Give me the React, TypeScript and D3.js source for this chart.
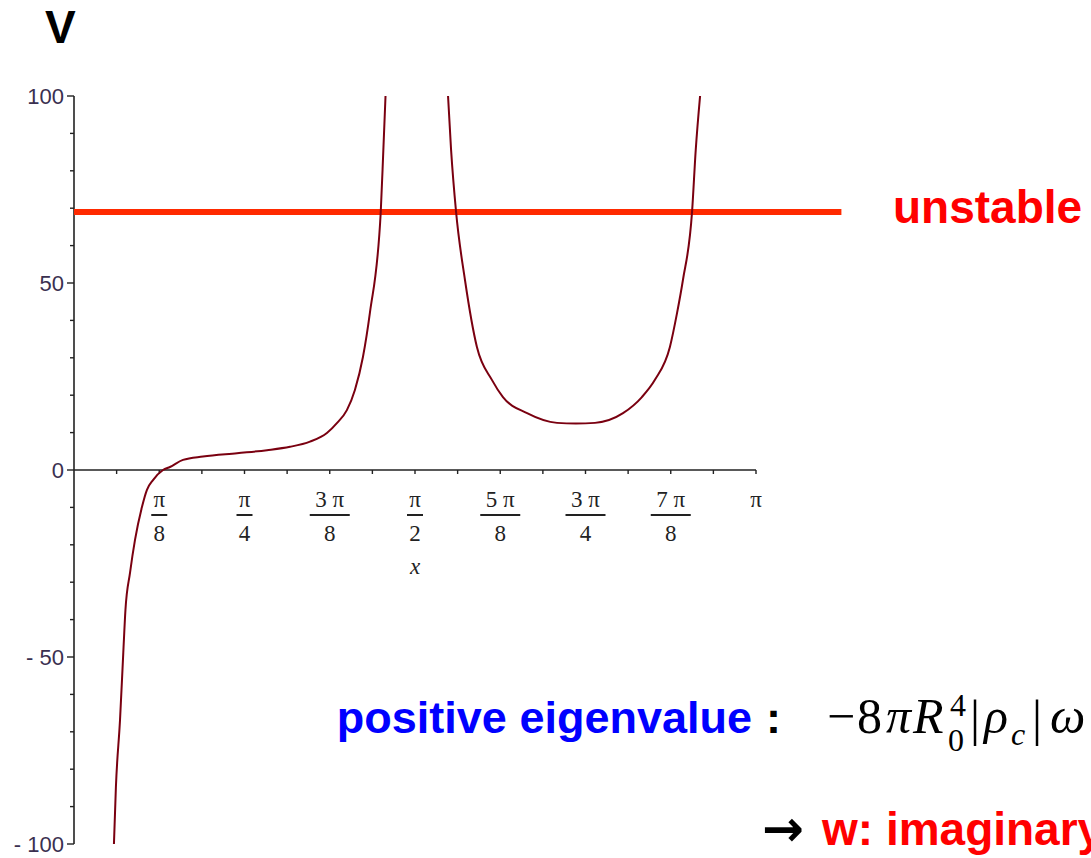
import React from 'react';
import * as d3 from 'd3';

// left branch (x in radians, V)
const BRANCH1_X = [0.184, 0.193, 0.212, 0.227, 0.237, 0.258, 0.281, 0.313, 0.336, 0.364, 0.410, 0.442, 0.502, 0.594, 0.751, 0.889, 0.995, 1.087, 1.165, 1.212, 1.257, 1.294, 1.331, 1.363, 1.413, 1.425, 1.435];
const BRANCH1_Y = [-100, -84.8, -66.8, -48.9, -37.4, -27.5, -18.7, -9.9, -5.3, -2.7, 0, 0.8, 2.7, 3.6, 4.5, 5.3, 6.2, 7.6, 9.9, 12.6, 16.0, 21.4, 30.2, 42.0, 69.0, 85.6, 100];

// right branch
const BRANCH2_X = [1.723, 1.737, 1.760, 1.801, 1.856, 1.925, 1.976, 2.087, 2.225, 2.312, 2.400, 2.529, 2.616, 2.676, 2.745, 2.778, 2.805, 2.847, 2.864, 2.884];
const BRANCH2_Y = [100, 85.6, 69.0, 50.8, 32.9, 24.1, 19.5, 15.2, 12.6, 12.4, 12.6, 15.2, 19.5, 24.1, 32.9, 42.0, 50.8, 69.0, 85.6, 100];

const THRESHOLD_V = 69;
const THRESHOLD_X_END = 3.535;

const Y_MAJOR = [100, 50, 0, -50, -100];
const Y_LABELS = ['100', '50', '0', '- 50', '- 100'];

const X_TICK_EIGHTHS = [1, 2, 3, 4, 5, 6, 7];
const X_TICK_NUM = ['π', 'π', '3 π', 'π', '5 π', '3 π', '7 π'];
const X_TICK_DEN = ['8', '4', '8', '2', '8', '4', '8'];

const SANS = '"Liberation Sans", Arial, sans-serif';
const SERIF = '"Liberation Serif", "Times New Roman", serif';

export default function App()
{
    const width = 1091;
    const height = 858;

    const x = d3.scaleLinear().domain([0, Math.PI]).range([74, 756]);
    const y = d3.scaleLinear().domain([-100, 100]).range([844, 96]);

    const line = d3.line<[number, number]>()
        .x((d) => x(d[0]))
        .y((d) => y(d[1]))
        .curve(d3.curveMonotoneX);

    const b1 = BRANCH1_X.map((v, i) => [v, BRANCH1_Y[i]] as [number, number]);
    const b2 = BRANCH2_X.map((v, i) => [v, BRANCH2_Y[i]] as [number, number]);

    const yMinor = d3.range(-100, 101, 10).filter((v) => !Y_MAJOR.includes(v));
    const xTicks = d3.range(1, 17).map((k) => (k * Math.PI) / 16);

    const x0 = x(0);
    const y0 = y(0);

    return (
        <svg width={ width } height={ height } style={ { position: 'absolute', left: 0, top: 0, background: '#fff' } }>
            {/* y axis */}
            <line x1={ x0 } x2={ x0 } y1={ y(100) } y2={ y(-100) } stroke="#222" strokeWidth={ 1.6 } />
            { Y_MAJOR.map((v, i) => (
                <g key={ 'ym' + v }>
                    <line x1={ x0 - 7 } x2={ x0 } y1={ y(v) } y2={ y(v) } stroke="#222" strokeWidth={ 1.4 } />
                    <text x={ x0 - 10 } y={ y(v) + 8 } textAnchor="end" fontFamily={ SANS } fontSize={ 22 } fill="#3a3050">{ Y_LABELS[i] }</text>
                </g>
            )) }
            { yMinor.map((v) => (
                <line key={ 'yn' + v } x1={ x0 - 4 } x2={ x0 } y1={ y(v) } y2={ y(v) } stroke="#222" strokeWidth={ 1.4 } />
            )) }

            {/* x axis */}
            <line x1={ x0 } x2={ x(Math.PI) } y1={ y0 } y2={ y0 } stroke="#222" strokeWidth={ 1.6 } />
            { xTicks.map((v, i) => (
                <line key={ 'xt' + i } x1={ x(v) } x2={ x(v) } y1={ y0 } y2={ y0 + 4 } stroke="#222" strokeWidth={ 1.4 } />
            )) }
            { X_TICK_EIGHTHS.map((k, i) =>
            {
                const cx = x((k * Math.PI) / 8);
                const half = X_TICK_NUM[i].length > 1 ? 20 : 8;
                return (
                    <g key={ 'xl' + k } fontFamily={ SERIF } fontSize={ 23 } fill="#222">
                        <text x={ cx } y={ 507 } textAnchor="middle">{ X_TICK_NUM[i] }</text>
                        <line x1={ cx - half } x2={ cx + half } y1={ 515 } y2={ 515 } stroke="#222" strokeWidth={ 2 } />
                        <text x={ cx } y={ 541 } textAnchor="middle">{ X_TICK_DEN[i] }</text>
                    </g>
                );
            }) }
            <text x={ x(Math.PI) } y={ 507 } textAnchor="middle" fontFamily={ SERIF } fontSize={ 23 } fill="#222">π</text>
            <text x={ x(Math.PI / 2) } y={ 574 } textAnchor="middle" fontFamily={ SERIF } fontStyle="italic" fontSize={ 23 } fill="#222">x</text>

            {/* threshold */}
            <line x1={ x0 } x2={ x(THRESHOLD_X_END) } y1={ y(THRESHOLD_V) } y2={ y(THRESHOLD_V) } stroke="#ff2a00" strokeWidth={ 6 } />

            {/* curve */}
            <path d={ line(b1) ?? '' } fill="none" stroke="#7a0010" strokeWidth={ 2 } />
            <path d={ line(b2) ?? '' } fill="none" stroke="#7a0010" strokeWidth={ 2 } />

            {/* annotations */}
            <text x={ 45 } y={ 43 } fontFamily={ SANS } fontWeight="bold" fontSize={ 46 } fill="#000">V</text>
            <text x={ 893 } y={ 223 } fontFamily={ SANS } fontWeight="bold" fontSize={ 46 } fill="#ff0000">unstable</text>
            <text x={ 752 } y={ 733 } textAnchor="end" fontFamily={ SANS } fontWeight="bold" fontSize={ 45 } fill="#0000ff">positive eigenvalue</text>
            <text x={ 766 } y={ 733 } fontFamily={ SANS } fontWeight="bold" fontSize={ 45 } fill="#000">:</text>

            <g fontFamily={ SERIF } fill="#000">
                <text x={ 827 } y={ 733 } fontSize={ 50 }>−</text>
                <text x={ 857 } y={ 733 } fontSize={ 50 }>8</text>
                <text x={ 886 } y={ 733 } fontSize={ 50 } fontStyle="italic">π</text>
                <text x={ 913 } y={ 733 } fontSize={ 50 } fontStyle="italic">R</text>
                <text x={ 950 } y={ 716 } fontSize={ 32 }>4</text>
                <text x={ 948 } y={ 751 } fontSize={ 32 }>0</text>
                <text x={ 970 } y={ 735 } fontSize={ 50 }>|</text>
                <text x={ 984 } y={ 733 } fontSize={ 50 } fontStyle="italic">ρ</text>
                <text x={ 1011 } y={ 745 } fontSize={ 32 } fontStyle="italic">c</text>
                <text x={ 1032 } y={ 735 } fontSize={ 50 }>|</text>
                <text x={ 1050 } y={ 733 } fontSize={ 50 } fontStyle="italic">ω</text>
            </g>

            <text x={ 762 } y={ 846 } fontFamily='"DejaVu Sans", sans-serif' fontWeight="bold" fontSize={ 50 } fill="#000">→</text>
            <text x={ 822 } y={ 845 } fontFamily={ SANS } fontWeight="bold" fontSize={ 46 } fill="#ff0000">w: imaginary</text>
        </svg>
    );
}
